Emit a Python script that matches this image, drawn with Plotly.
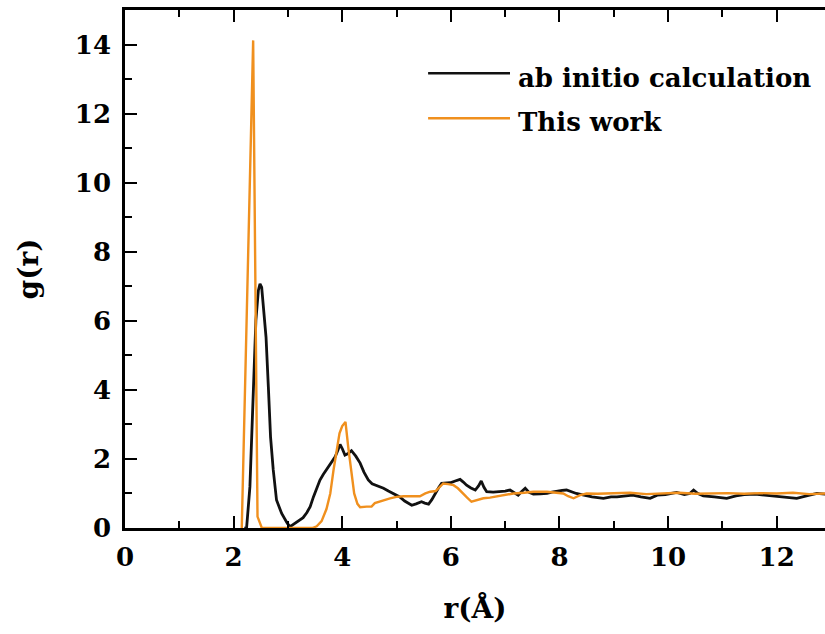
import plotly.graph_objects as go

# Radial distribution function g(r) from ab initio MD and from this work
r_abinitio = [2.20, 2.24, 2.30, 2.364, 2.41, 2.456, 2.486, 2.517, 2.56, 2.597, 2.64, 2.68,
              2.73, 2.79, 2.885, 2.99, 3.04, 3.10, 3.16, 3.22, 3.28, 3.35, 3.41, 3.47, 3.53,
              3.59, 3.65, 3.74, 3.80, 3.87, 3.92, 3.96, 4.00, 4.05, 4.10, 4.17, 4.25, 4.33,
              4.40, 4.48, 4.55, 4.62, 4.70, 4.76, 4.85, 4.94, 5.06, 5.15, 5.28, 5.36, 5.46,
              5.52, 5.59, 5.65, 5.71, 5.78, 5.83, 5.92, 5.99, 6.08, 6.17, 6.23, 6.29, 6.37,
              6.45, 6.51, 6.56, 6.61, 6.66, 6.78, 6.91, 7.00, 7.09, 7.16, 7.24, 7.30, 7.37,
              7.44, 7.52, 7.65, 7.77, 7.86, 7.95, 8.05, 8.13, 8.22, 8.31, 8.45, 8.60, 8.81,
              8.95, 9.06, 9.20, 9.35, 9.50, 9.67, 9.80, 9.95, 10.16, 10.30, 10.40, 10.47,
              10.55, 10.65, 10.85, 11.08, 11.25, 11.40, 11.60, 11.80, 12.00, 12.20, 12.37,
              12.55, 12.74, 12.90]
g_abinitio = [0, 0.02, 1.19, 4.08, 6.01, 6.88, 7.07, 6.97, 6.30, 5.53, 4.08, 2.64,
              1.68, 0.81, 0.42, 0.13, 0.04, 0.10, 0.18, 0.23, 0.30, 0.45, 0.62, 0.90, 1.15,
              1.39, 1.55, 1.77, 1.88, 2.06, 2.25, 2.42, 2.30, 2.11, 2.15, 2.24, 2.08, 1.88,
              1.62, 1.39, 1.28, 1.24, 1.20, 1.15, 1.07, 1.00, 0.90, 0.78, 0.66, 0.70, 0.76,
              0.72, 0.69, 0.82, 1.00, 1.18, 1.29, 1.30, 1.31, 1.36, 1.41, 1.33, 1.24, 1.16,
              1.10, 1.22, 1.36, 1.18, 1.05, 1.04, 1.05, 1.07, 1.10, 1.02, 0.95, 1.05, 1.15,
              1.03, 0.98, 0.99, 1.00, 1.04, 1.07, 1.09, 1.10, 1.05, 1.00, 0.95, 0.90, 0.86,
              0.90, 0.90, 0.93, 0.95, 0.90, 0.86, 0.95, 0.97, 1.03, 0.97, 1.00, 1.10,
              1.00, 0.93, 0.90, 0.86, 0.93, 0.97, 0.98, 0.95, 0.93, 0.90, 0.86,
              0.93, 1.00, 0.98]

r_this = [2.13, 2.15, 2.36, 2.44, 2.52, 3.45, 3.53, 3.62, 3.71, 3.78, 3.84, 3.90, 3.95, 4.00,
          4.06, 4.11, 4.16, 4.22, 4.28, 4.33, 4.45, 4.54, 4.60, 4.67, 4.76, 4.88, 5.00, 5.13,
          5.28, 5.43, 5.53, 5.62, 5.72, 5.80, 5.86, 5.95, 6.05, 6.13, 6.20, 6.30, 6.38, 6.48,
          6.60, 6.72, 6.85, 7.00, 7.15, 7.35, 7.52, 7.77, 7.95, 8.07, 8.16, 8.26, 8.38, 8.50,
          8.70, 9.00, 9.30, 9.60, 9.90, 10.20, 10.50, 10.80, 11.10, 11.40, 11.70, 12.00,
          12.30, 12.60, 12.90]
g_this = [0, 0, 14.12, 0.33, 0, 0, 0.05, 0.20, 0.55, 1.00, 1.68, 2.30, 2.74, 2.95,
          3.07, 2.35, 1.70, 1.00, 0.70, 0.60, 0.62, 0.62, 0.72, 0.76, 0.80, 0.86, 0.90, 0.92,
          0.92, 0.92, 1.00, 1.05, 1.07, 1.20, 1.29, 1.27, 1.24, 1.15, 1.05, 0.88, 0.76, 0.80,
          0.86, 0.88, 0.92, 0.96, 1.00, 1.02, 1.05, 1.05, 1.02, 1.00, 0.92, 0.86, 0.95, 1.00,
          0.99, 1.00, 1.02, 0.98, 1.00, 1.02, 0.99, 1.00, 1.01, 0.99, 1.01, 1.00,
          1.02, 0.98, 1.00]

series_names = ["ab initio calculation", "This work"]
series_colors = ["#111111", "#F0901E"]

x_ticks = [0, 2, 4, 6, 8, 10, 12]
y_ticks = [0, 2, 4, 6, 8, 10, 12, 14]

FONT = "DejaVu Serif"

fig = go.Figure()
fig.add_trace(go.Scatter(x=r_abinitio, y=g_abinitio, mode="lines", name=series_names[0],
                         line=dict(color=series_colors[0], width=2.8), showlegend=False))
fig.add_trace(go.Scatter(x=r_this, y=g_this, mode="lines", name=series_names[1],
                         line=dict(color=series_colors[1], width=2.4), showlegend=False))

# Legend drawn as line samples with text labels
legend_rows = [(0.878, 0.868), (0.791, 0.783)]
for (ly, ty), name, col in zip(legend_rows, series_names, series_colors):
    fig.add_shape(type="line", xref="paper", yref="paper", x0=0.433, x1=0.55, y0=ly, y1=ly,
                  line=dict(color=col, width=2.6))
    fig.add_annotation(xref="paper", yref="paper", x=0.558, y=ty, text="<b>%s</b>" % name,
                       showarrow=False, xanchor="left", yanchor="middle",
                       font=dict(family=FONT, size=26, color="#000"))

axis_common = dict(showgrid=False, zeroline=False, ticks="inside", ticklen=12, tickwidth=2,
                   tickcolor="#000", linecolor="#000", linewidth=2.5,
                   tickfont=dict(family=FONT, size=26, color="#000"))

fig.update_layout(
    width=825, height=634,
    margin=dict(l=125, r=0, t=10, b=106),
    paper_bgcolor="white", plot_bgcolor="white",
    font=dict(family=FONT, color="#000"),
    xaxis=dict(range=[0, 12.89], tickvals=x_ticks, ticktext=["<b>%d</b>" % v for v in x_ticks],
               mirror="allticks", showline=True, ticklabelstandoff=4,
               minor=dict(dtick=1, tick0=0, ticks="inside", ticklen=7, tickwidth=2, tickcolor="#000"),
               title=dict(text="<b>r(Å)</b>", font=dict(family=FONT, size=28, color="#000"), standoff=28),
               **axis_common),
    yaxis=dict(range=[0, 15], tickvals=y_ticks, ticktext=["<b>%d</b>" % v for v in y_ticks],
               showline=True, ticklabelstandoff=6,
               minor=dict(dtick=1, tick0=0, ticks="inside", ticklen=7, tickwidth=2, tickcolor="#000"),
               title=dict(text="<b>g(r)</b>", font=dict(family=FONT, size=28, color="#000"), standoff=29),
               **axis_common),
    yaxis2=dict(overlaying="y", side="right", anchor="x", range=[0, 15], tickvals=y_ticks,
                showticklabels=False, showline=False, showgrid=False, zeroline=False,
                ticks="inside", ticklen=6, tickwidth=2, tickcolor="#000"),
)

fig.write_html("out.html")
